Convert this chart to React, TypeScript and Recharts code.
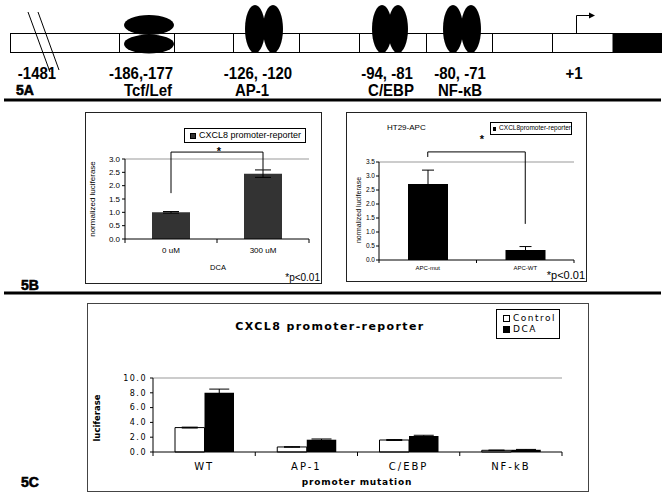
import React from "react";
import { BarChart, Bar, XAxis, YAxis, ErrorBar, Legend, ReferenceLine } from "recharts";

// 5A promoter map
const siteCoords = ["-1481", "-186,-177", "-126, -120", "-94, -81", "-80, -71", "+1"];
const siteNames = ["Tcf/Lef", "AP-1", "C/EBP", "NF-κB"];

// 5B left: DCA dose
const doseLabels = ["0 uM", "300 uM"];
const doseValues = [1.0, 2.45];
const doseErrors = [0.03, 0.14];
const doseTicks = [0, 0.5, 1, 1.5, 2, 2.5, 3];

// 5B right: HT29-APC
const apcLabels = ["APC-mut", "APC-WT"];
const apcValues = [2.71, 0.36];
const apcErrors = [0.5, 0.12];
const apcTicks = [0, 0.5, 1, 1.5, 2, 2.5, 3, 3.5];

// 5C: promoter mutations
const mutationLabels = ["WT", "AP-1", "C/EBP", "NF-kB"];
const controlValues = [3.3, 0.68, 1.62, 0.23];
const controlErrors = [0.06, 0.03, 0.06, 0.03];
const dcaValues = [8.0, 1.66, 2.16, 0.3];
const dcaErrors = [0.5, 0.1, 0.1, 0.05];
const mutationTicks = [0, 2, 4, 6, 8, 10];

const doseData = doseLabels.map((name, i) => ({ name, value: doseValues[i], err: doseErrors[i] }));
const apcData = apcLabels.map((name, i) => ({ name, value: apcValues[i], err: apcErrors[i] }));
const mutationData = mutationLabels.map((name, i) => ({
  name,
  control: controlValues[i],
  controlErr: controlErrors[i],
  dca: dcaValues[i],
  dcaErr: dcaErrors[i],
}));

function makeTick(fontSize: number, spacing = 0, digits?: number) {
  return (p: any) => {
    const v = p.payload ? p.payload.value : "";
    const label = digits === undefined ? String(v) : Number(v).toFixed(digits);
    return (
      <text
        x={p.x}
        y={p.y}
        dy={p.verticalAnchor === "middle" ? "0.35em" : "0.75em"}
        textAnchor={p.textAnchor}
        fontSize={fontSize}
        letterSpacing={spacing}
        fill="#000"
      >
        {label}
      </text>
    );
  };
}

// category label plus Excel-style tick marks on the band edges
function makeCatTick(fontSize: number, spacing: number, lead: number, len: number, count: number) {
  return (p: any) => {
    const half = (p.payload && p.payload.offset) || 0;
    const idx = p.payload ? p.payload.index : 0;
    const axisY = p.y - lead;
    const edges = idx === count - 1 ? [p.x - half, p.x + half] : [p.x - half];
    return (
      <g>
        {edges.map((ex) => (
          <line key={ex} x1={ex} x2={ex} y1={axisY} y2={axisY + len} stroke="#000" />
        ))}
        <text x={p.x} y={p.y} dy="0.75em" textAnchor="middle" fontSize={fontSize} letterSpacing={spacing} fill="#000">
          {p.payload ? p.payload.value : ""}
        </text>
      </g>
    );
  };
}

function boxLegend(fills: Record<string, string>, fontSize: number, swatch: number, spacing: number, pad: string) {
  return (props: any) => (
    <div
      style={{
        boxSizing: "border-box",
        width: "100%",
        height: "100%",
        border: "1px solid #000",
        background: "#fff",
        padding: pad,
        fontSize,
        letterSpacing: spacing,
        lineHeight: 1.25,
        color: "#000",
        display: "flex",
        flexDirection: "column",
        justifyContent: "center",
      }}
    >
      {(props.payload || []).map((e: any) => (
        <div key={e.value} style={{ display: "flex", alignItems: "center", whiteSpace: "nowrap" }}>
          <span
            style={{
              display: "inline-block",
              width: swatch,
              height: swatch,
              boxSizing: "border-box",
              background: fills[e.value],
              border: "1px solid #000",
              marginRight: 3,
            }}
          />
          <span>{e.value}</span>
        </div>
      ))}
    </div>
  );
}

const black = { stroke: "#000" };

function DoseChart() {
  return (
    <BarChart width={236} height={171} data={doseData} margin={{ top: 47, right: 12, bottom: 24, left: 0 }} barSize={38}>
      <XAxis dataKey="name" height={20} interval={0} tickLine={false} axisLine={black} tickSize={6} tickMargin={2} tick={makeCatTick(8, 0, 8, 4, doseLabels.length)} />
      <YAxis yAxisId="v" domain={[0, 3]} ticks={doseTicks} interval={0} width={40} tickSize={3} tickMargin={2} axisLine={black} tickLine={black} tick={makeTick(8, 0, 1)} />
      <YAxis yAxisId="edge" orientation="right" width={0} tick={false} tickLine={false} axisLine={{ stroke: "#999" }} />
      <ReferenceLine yAxisId="v" y={3} stroke="#999" />
      <Legend
        layout="vertical"
        align="center"
        verticalAlign="middle"
        width={122}
        height={15}
        wrapperStyle={{ left: 99, top: 16, width: 122, height: 15 }}
        content={boxLegend({ "CXCL8 promoter-reporter": "#333" }, 9, 6, 0, "0 0 0 5px")}
      />
      <Bar yAxisId="v" dataKey="value" name="CXCL8 promoter-reporter" fill="#333" isAnimationActive={false}>
        <ErrorBar dataKey="err" width={8} stroke="#000" strokeWidth={1} direction="y" />
      </Bar>
      <ReferenceLine yAxisId="v" ifOverflow="visible" stroke="#000" segment={[{ x: "0 uM", y: 1.72 }, { x: "0 uM", y: 3.26 }]} />
      <ReferenceLine yAxisId="v" ifOverflow="visible" stroke="#000" segment={[{ x: "0 uM", y: 3.26 }, { x: "300 uM", y: 3.26 }]} />
      <ReferenceLine yAxisId="v" ifOverflow="visible" stroke="#000" segment={[{ x: "300 uM", y: 3.26 }, { x: "300 uM", y: 2.6 }]} />
    </BarChart>
  );
}

function ApcChart() {
  return (
    <BarChart width={240} height={169} data={apcData} margin={{ top: 50, right: 12, bottom: 9, left: 0 }} barSize={40}>
      <XAxis dataKey="name" height={12} interval={0} tickLine={false} axisLine={black} tickSize={4} tickMargin={1} tick={makeCatTick(6, 0, 5, 3, apcLabels.length)} />
      <YAxis yAxisId="v" domain={[0, 3.5]} ticks={apcTicks} interval={0} width={33} tickSize={3} tickMargin={1} axisLine={black} tickLine={black} tick={makeTick(6.5, 0, 1)} />
      <YAxis yAxisId="edge" orientation="right" width={0} tick={false} tickLine={false} axisLine={{ stroke: "#999" }} />
      <ReferenceLine yAxisId="v" y={3.5} stroke="#999" />
      <Legend
        layout="vertical"
        align="center"
        verticalAlign="middle"
        width={82}
        height={13}
        wrapperStyle={{ left: 144, top: 10, width: 82, height: 13 }}
        content={boxLegend({ "CXCL8promoter-reporter": "#000" }, 6.5, 4, 0, "0 0 0 2px")}
      />
      <Bar yAxisId="v" dataKey="value" name="CXCL8promoter-reporter" fill="#000" isAnimationActive={false}>
        <ErrorBar dataKey="err" width={6} stroke="#000" strokeWidth={1} direction="y" />
      </Bar>
      <ReferenceLine yAxisId="v" ifOverflow="visible" stroke="#000" segment={[{ x: "APC-mut", y: 3.68 }, { x: "APC-mut", y: 3.86 }]} />
      <ReferenceLine yAxisId="v" ifOverflow="visible" stroke="#000" segment={[{ x: "APC-mut", y: 3.86 }, { x: "APC-WT", y: 3.86 }]} />
      <ReferenceLine yAxisId="v" ifOverflow="visible" stroke="#000" segment={[{ x: "APC-WT", y: 3.86 }, { x: "APC-WT", y: 1.29 }]} />
    </BarChart>
  );
}

function MutationChart() {
  return (
    <BarChart width={501} height={188} data={mutationData} margin={{ top: 75, right: 26, bottom: 19, left: 0 }} barSize={29.5} barGap={0}>
      <XAxis dataKey="name" height={20} interval={0} tickLine={false} axisLine={black} tickSize={6} tickMargin={4} tick={makeCatTick(10, 2, 10, 4, mutationLabels.length)} />
      <YAxis yAxisId="v" domain={[0, 10]} ticks={mutationTicks} interval={0} width={66} tickSize={3} tickMargin={3} axisLine={black} tickLine={black} tick={makeTick(8, 1.5, 1)} />
      <YAxis yAxisId="edge" orientation="right" width={0} tick={false} tickLine={false} axisLine={{ stroke: "#999" }} />
      <ReferenceLine yAxisId="v" y={10} stroke="#999" />
      <Legend
        layout="vertical"
        align="center"
        verticalAlign="middle"
        width={64}
        height={30}
        wrapperStyle={{ left: 409, top: 6, width: 64, height: 30 }}
        content={boxLegend({ Control: "#fff", DCA: "#000" }, 9, 7, 1.5, "0 0 0 6px")}
      />
      <Bar yAxisId="v" dataKey="control" name="Control" fill="#fff" stroke="#000" strokeWidth={1} isAnimationActive={false}>
        <ErrorBar dataKey="controlErr" width={8} stroke="#000" strokeWidth={1} direction="y" />
      </Bar>
      <Bar yAxisId="v" dataKey="dca" name="DCA" fill="#000" isAnimationActive={false}>
        <ErrorBar dataKey="dcaErr" width={10} stroke="#000" strokeWidth={1} direction="y" />
      </Bar>
    </BarChart>
  );
}

function MapLabel({ x, y, children }: { x: number; y: number; children: React.ReactNode }) {
  return (
    <text transform={`translate(${x},${y}) scale(1,1.1)`} textAnchor="middle" fontSize={15} fontWeight="bold" fill="#000">
      {children}
    </text>
  );
}

function PanelTag({ x, y, children }: { x: number; y: number; children: React.ReactNode }) {
  return (
    <text transform={`translate(${x},${y})`} fontSize={14} fontWeight="bold" fill="#000" stroke="#000" strokeWidth={0.6}>
      {children}
    </text>
  );
}

const dividers = [119, 174, 233, 299, 359, 426, 492, 552];
const coordX = [37, 141, 258, 387, 460, 574];
const nameX = [148, 252, 391, 460];

export default function App() {
  return (
    <div
      style={{
        position: "absolute",
        left: 0,
        top: 0,
        width: 665,
        height: 499,
        background: "#fff",
        overflow: "hidden",
        fontFamily: '"Liberation Sans", Arial, sans-serif',
      }}
    >
      <div style={{ position: "absolute", left: 85, top: 112 }}>
        <DoseChart />
      </div>
      <div style={{ position: "absolute", left: 346, top: 112 }}>
        <ApcChart />
      </div>
      <div style={{ position: "absolute", left: 87, top: 303, fontFamily: '"DejaVu Sans", sans-serif' }}>
        <MutationChart />
      </div>

      <svg width={665} height={499} style={{ position: "absolute", left: 0, top: 0, pointerEvents: "none" }}>
        {/* 5A promoter map */}
        <rect x={10.5} y={33.5} width={602.5} height={19} fill="#fff" stroke="#000" />
        {dividers.map((x) => (
          <line key={x} x1={x + 0.5} x2={x + 0.5} y1={33.5} y2={52.5} stroke="#000" />
        ))}
        <rect x={613} y={33} width={49} height={20} fill="#000" />
        <line x1={28} y1={12} x2={50} y2={72} stroke="#000" />
        <line x1={38} y1={12} x2={59} y2={70} stroke="#000" />
        <ellipse cx={149} cy={25} rx={25} ry={10} fill="#000" />
        <ellipse cx={149} cy={44} rx={25} ry={9.5} fill="#000" />
        {[255, 273, 382, 398, 453, 471].map((cx) => (
          <ellipse key={cx} cx={cx} cy={29} rx={10} ry={24} fill="#000" />
        ))}
        <path d="M576.5 33 V15.5 H590" stroke="#000" fill="none" />
        <polygon points="589,12.5 595,15.5 589,18.5" fill="#000" />
        {siteCoords.map((t, i) => (
          <MapLabel key={t} x={coordX[i]} y={79}>
            {t}
          </MapLabel>
        ))}
        {siteNames.map((t, i) => (
          <MapLabel key={t} x={nameX[i]} y={96}>
            {t}
          </MapLabel>
        ))}
        <PanelTag x={16} y={95}>5A</PanelTag>
        <line x1={4} x2={661} y1={100} y2={100} stroke="#000" strokeWidth={3} />

        {/* 5B */}
        <rect x={85.5} y={112.5} width={236} height={171} fill="none" stroke="#222" />
        <rect x={346.5} y={112.5} width={240} height={169} fill="none" stroke="#222" />
        <text transform="translate(95,199) rotate(-90)" textAnchor="middle" fontSize={8} fill="#000">
          normalized luciferase
        </text>
        <text x={218} y={270} textAnchor="middle" fontSize={7.5} fill="#000">
          DCA
        </text>
        <text x={219} y={155} textAnchor="middle" fontSize={11} fontWeight="bold" fill="#000">
          *
        </text>
        <text x={320} y={281} textAnchor="end" fontSize={10} fill="#000">
          *p&lt;0.01
        </text>
        <text x={387} y={130} fontSize={8} fill="#000">
          HT29-APC
        </text>
        <text transform="translate(361,210) rotate(-90)" textAnchor="middle" fontSize={7} fill="#000">
          normalized luciferase
        </text>
        <text x={482} y={143} textAnchor="middle" fontSize={11} fontWeight="bold" fill="#000">
          *
        </text>
        <text x={585} y={279} textAnchor="end" fontSize={11} fill="#000">
          *p&lt;0.01
        </text>
        <PanelTag x={21} y={290}>5B</PanelTag>
        <line x1={4} x2={661} y1={293} y2={293} stroke="#000" strokeWidth={3} />

        {/* 5C */}
        <rect x={87.5} y={303.5} width={501} height={188} fill="none" stroke="#444" />
        <text x={330} y={330} textAnchor="middle" fontSize={11} fontWeight="bold" letterSpacing={1.4} fontFamily='"DejaVu Sans", sans-serif' fill="#000">
          CXCL8 promoter-reporter
        </text>
        <text x={357} y={485} textAnchor="middle" fontSize={9} fontWeight="bold" letterSpacing={0.8} fontFamily='"DejaVu Sans", sans-serif' fill="#000">
          promoter mutation
        </text>
        <text transform="translate(100,418) rotate(-90)" textAnchor="middle" fontSize={8.5} fontWeight="bold" fontFamily='"DejaVu Sans", sans-serif' fill="#000">
          luciferase
        </text>
        <PanelTag x={21} y={487}>5C</PanelTag>
      </svg>
    </div>
  );
}
